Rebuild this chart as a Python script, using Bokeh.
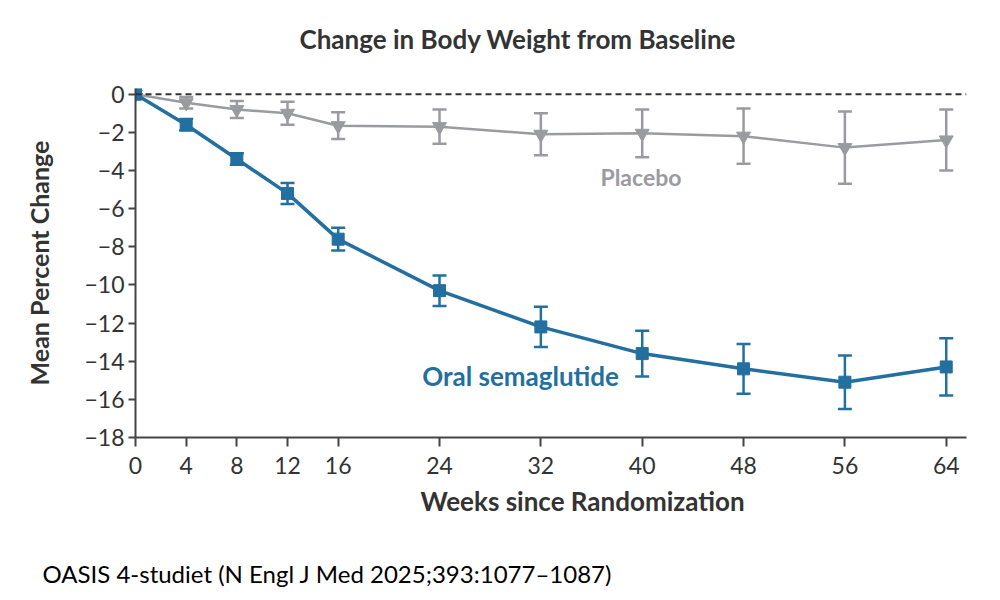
from bokeh.plotting import figure
from bokeh.models import ColumnDataSource, Whisker, TeeHead, Span, Label, FixedTicker, Range1d, Title
from bokeh.embed import file_html
from bokeh.resources import INLINE

weeks = [0, 4, 8, 12, 16, 24, 32, 40, 48, 56, 64]
sema_mean = [0, -1.6, -3.4, -5.2, -7.6, -10.3, -12.2, -13.6, -14.4, -15.1, -14.3]
sema_err = [0, 0.3, 0.3, 0.55, 0.6, 0.8, 1.05, 1.2, 1.3, 1.4, 1.5]
plac_mean = [0, -0.45, -0.8, -1.0, -1.65, -1.7, -2.1, -2.05, -2.2, -2.8, -2.4]
plac_err = [0, 0.3, 0.45, 0.6, 0.7, 0.9, 1.1, 1.25, 1.45, 1.9, 1.6]
y_ticks = [0, -2, -4, -6, -8, -10, -12, -14, -16, -18]

BLUE = "#226fa0"
GRAY = "#9a9b9f"
DARK = "#333333"
FONT = "Lato"

p = figure(width=984, height=592, output_backend="svg", toolbar_location=None,
           x_range=Range1d(0, 65.6), y_range=Range1d(-18, 0.3),
           min_border_left=135, min_border_right=18, min_border_top=88, min_border_bottom=155)
p.outline_line_color = None
p.xgrid.grid_line_color = None
p.ygrid.grid_line_color = None

p.title.text = "Change in Body Weight from Baseline\n "
p.title.text_font = FONT
p.title.text_font_style = "bold"
p.title.text_font_size = "26px"
p.title.text_line_height = 1.0
p.title.text_color = DARK
p.title.align = "left"
p.title.offset = 164
p.title.vertical_align = "top"
p.title.standoff = 0

for ax in (p.xaxis, p.yaxis):
    ax.axis_line_color = "#444444"
    ax.axis_line_width = 2
    ax.major_tick_line_color = "#444444"
    ax.major_tick_line_width = 2
    ax.minor_tick_line_color = None
    ax.major_tick_in = 0
    ax.major_label_text_font = FONT
    ax.major_label_text_font_size = "23px"
    ax.major_label_text_color = DARK
    ax.axis_label_text_font = FONT
    ax.axis_label_text_font_style = "bold"
    ax.axis_label_text_font_size = "25px"
    ax.axis_label_text_color = DARK

p.xaxis.ticker = FixedTicker(ticks=weeks)
p.xaxis.major_tick_out = 9
p.xaxis.major_label_standoff = 10
p.yaxis.ticker = FixedTicker(ticks=y_ticks)
p.yaxis.major_tick_out = 7
p.yaxis.major_label_standoff = 4
p.yaxis.major_label_overrides = {v: ("\u2212" + str(abs(v)) if v < 0 else str(v)) for v in y_ticks}
p.yaxis.axis_label = "Mean Percent Change"
p.yaxis.axis_label_standoff = 27

p.add_layout(Title(text="Weeks since Randomization\n ", align="left", offset=285, standoff=16,
                   vertical_align="top", text_font=FONT, text_font_style="bold", text_font_size="26px",
                   text_color=DARK), "below")
p.add_layout(Title(text="OASIS 4-studiet (N Engl J Med 2025;393:1077\u20131087)", align="left", offset=-93,
                   standoff=0, vertical_align="top", text_font=FONT, text_font_style="normal",
                   text_font_size="24px", text_color="#000000"), "below")

p.add_layout(Span(location=0, dimension="width", line_color=DARK, line_width=2, line_dash="6 4"))

plac = ColumnDataSource(dict(x=weeks, y=plac_mean,
                             lo=[m - e for m, e in zip(plac_mean, plac_err)],
                             hi=[m + e for m, e in zip(plac_mean, plac_err)]))
sema = ColumnDataSource(dict(x=weeks, y=sema_mean,
                             lo=[m - e for m, e in zip(sema_mean, sema_err)],
                             hi=[m + e for m, e in zip(sema_mean, sema_err)]))

p.add_layout(Whisker(source=plac, base="x", upper="hi", lower="lo", line_color=GRAY, line_width=2.5,
                     upper_head=TeeHead(size=14, line_color=GRAY, line_width=2.5),
                     lower_head=TeeHead(size=14, line_color=GRAY, line_width=2.5)))
p.line("x", "y", source=plac, line_color=GRAY, line_width=2.5)
p.scatter("x", "y", source=plac, marker="inverted_triangle", size=14, fill_color=GRAY, line_color=GRAY)

p.add_layout(Whisker(source=sema, base="x", upper="hi", lower="lo", line_color=BLUE, line_width=2.5,
                     upper_head=TeeHead(size=14, line_color=BLUE, line_width=2.5),
                     lower_head=TeeHead(size=14, line_color=BLUE, line_width=2.5)))
p.line("x", "y", source=sema, line_color=BLUE, line_width=3.5)
p.scatter("x", "y", source=sema, marker="square", size=12, fill_color=BLUE, line_color=BLUE)

p.add_layout(Label(x=39.9, y=-4.35, text="Placebo", text_font=FONT, text_font_style="bold",
                   text_font_size="23px", text_color=GRAY, text_align="center", text_baseline="middle"))
p.add_layout(Label(x=30.4, y=-14.8, text="Oral semaglutide", text_font=FONT, text_font_style="bold",
                   text_font_size="26px", text_color=BLUE, text_align="center", text_baseline="middle"))

open("out.html", "w").write(file_html(p, INLINE))
